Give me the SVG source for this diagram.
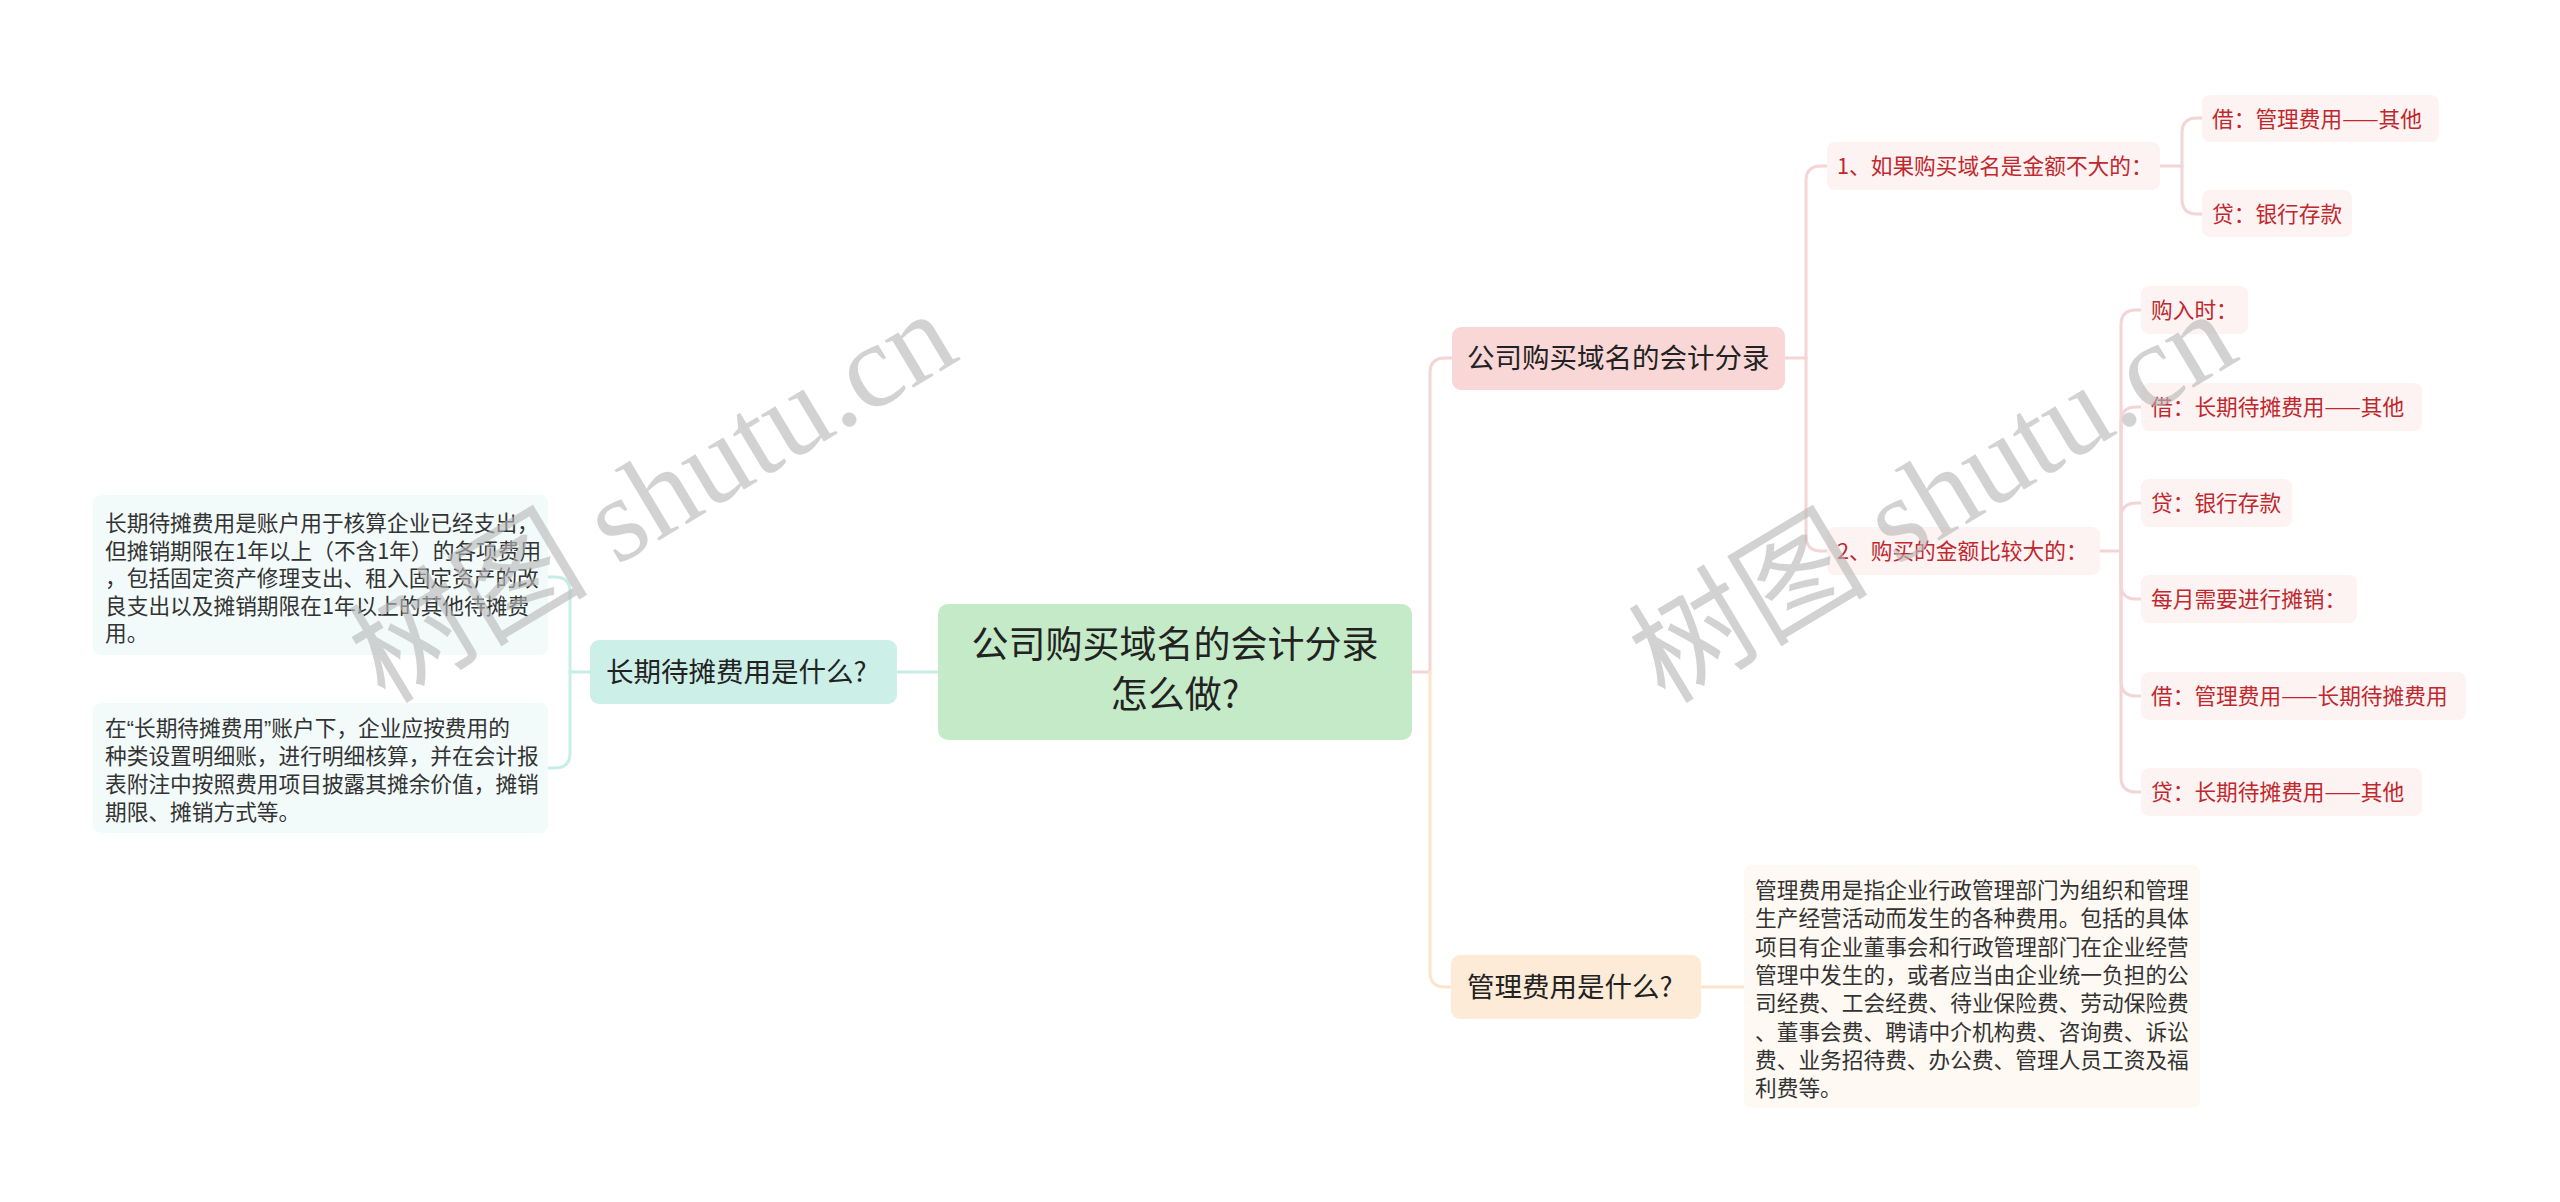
<svg xmlns="http://www.w3.org/2000/svg" width="2560" height="1202" viewBox="0 0 2560 1202">
<style>
text{font-family:"Noto Sans CJK SC","Noto Sans",sans-serif;}
.root{fill:#c5eac8;}
.rt{font-size:37px;fill:#222;}
.l1t{font-size:27.5px;fill:#222;}
.lt{font-size:21.7px;fill:#c0282d;}
.dt{font-size:21.7px;fill:#333;}
.q{font-family:"Liberation Sans",sans-serif;}
.leaf{fill:#fdf3f3;}
.c{fill:none;stroke-width:3;stroke-linecap:round;}
.teal{stroke:#c6ede6;}
.pink{stroke:#f4d4d4;}
.peach{stroke:#fde5cc;}
.wm{font-family:"Liberation Serif","Noto Sans CJK SC",serif;font-size:120px;fill:#b8b8b8;opacity:0.62;}
</style>
<rect width="2560" height="1202" fill="#ffffff"/>
<g id="connectors">
<path class="c teal" d="M938,672 H897"/>
<path class="c teal" d="M590,672 H570"/>
<path class="c teal" d="M570,672 V592 Q570,577 555,577 H548"/>
<path class="c teal" d="M570,672 V753 Q570,768 555,768 H548"/>
<path class="c pink" d="M1412,672 H1430 V373 Q1430,358 1445,358 H1452"/>
<path class="c peach" d="M1430,672 V972 Q1430,987 1445,987 H1451"/>
<path class="c peach" d="M1701,987 H1744"/>
<path class="c pink" d="M1785,358 H1806"/>
<path class="c pink" d="M1806,358 V181 Q1806,166 1821,166 H1827"/>
<path class="c pink" d="M1806,358 V536 Q1806,551 1821,551 H1827"/>
<path class="c pink" d="M2160,166 H2182"/>
<path class="c pink" d="M2182,166 V133 Q2182,118 2197,118 H2202"/>
<path class="c pink" d="M2182,166 V199 Q2182,214 2197,214 H2202"/>
<path class="c pink" d="M2100,551 H2121"/>
<path class="c pink" d="M2121,551 V325 Q2121,310 2136,310 H2141"/>
<path class="c pink" d="M2121,551 V422 Q2121,407 2136,407 H2141"/>
<path class="c pink" d="M2121,551 V518 Q2121,503 2136,503 H2141"/>
<path class="c pink" d="M2121,551 V584 Q2121,599 2136,599 H2141"/>
<path class="c pink" d="M2121,551 V681 Q2121,696 2136,696 H2141"/>
<path class="c pink" d="M2121,551 V777 Q2121,792 2136,792 H2141"/>
</g>
<g id="root">
<rect class="root" x="938" y="604" width="474" height="136" rx="10"/>
<text class="rt" text-anchor="middle"><tspan x="1175" y="658">公司购买域名的会计分录</tspan><tspan x="1175" y="708">怎么做?</tspan></text>
</g>
<g id="n-left">
<rect x="590" y="640" width="307" height="64" rx="9" fill="#ccefe8"/>
<text class="l1t" x="606" y="682">长期待摊费用是什么?</text>
</g>
<g id="n-left-d1">
<rect x="93" y="495" width="455" height="160" rx="8" fill="#f2fafa"/>
<text class="dt"><tspan x="105" y="531">长期待摊费用是账户用于核算企业已经支出，</tspan><tspan x="105" y="558.5">但摊销期限在1年以上（不含1年）的各项费用</tspan><tspan x="105" y="586">，包括固定资产修理支出、租入固定资产的改</tspan><tspan x="105" y="613.5">良支出以及摊销期限在1年以上的其他待摊费</tspan><tspan x="105" y="641">用。</tspan></text>
</g>
<g id="n-left-d2">
<rect x="93" y="703" width="455" height="130" rx="8" fill="#f2fafa"/>
<text class="dt"><tspan x="105" y="736">在<tspan class="q">“</tspan>长期待摊费用<tspan class="q">”</tspan>账户下，企业应按费用的</tspan><tspan x="105" y="764">种类设置明细账，进行明细核算，并在会计报</tspan><tspan x="105" y="792">表附注中按照费用项目披露其摊余价值，摊销</tspan><tspan x="105" y="820">期限、摊销方式等。</tspan></text>
</g>
<g id="n-entry">
<rect x="1452" y="327" width="333" height="63" rx="9" fill="#f9d7d7"/>
<text class="l1t" x="1467" y="368">公司购买域名的会计分录</text>
</g>
<g id="n-small">
<rect class="leaf" x="1827" y="142" width="333" height="48" rx="8"/>
<text class="lt" x="1837" y="174">1、如果购买域名是金额不大的：</text>
</g>
<g id="n-small-1">
<rect class="leaf" x="2202" y="95" width="237" height="47" rx="8"/>
<text class="lt" x="2212" y="126.5">借：管理费用——其他</text>
</g>
<g id="n-small-2">
<rect class="leaf" x="2202" y="190" width="150" height="47" rx="8"/>
<text class="lt" x="2212" y="221.5">贷：银行存款</text>
</g>
<g id="n-large">
<rect class="leaf" x="1827" y="527" width="273" height="48" rx="8"/>
<text class="lt" x="1837" y="559">2、购买的金额比较大的：</text>
</g>
<g id="n-large-1">
<rect class="leaf" x="2141" y="286" width="107" height="48" rx="8"/>
<text class="lt" x="2151" y="318">购入时：</text>
</g>
<g id="n-large-2">
<rect class="leaf" x="2141" y="383" width="281" height="48" rx="8"/>
<text class="lt" x="2151" y="415">借：长期待摊费用——其他</text>
</g>
<g id="n-large-3">
<rect class="leaf" x="2141" y="479" width="151" height="48" rx="8"/>
<text class="lt" x="2151" y="511">贷：银行存款</text>
</g>
<g id="n-large-4">
<rect class="leaf" x="2141" y="575" width="216" height="48" rx="8"/>
<text class="lt" x="2151" y="607">每月需要进行摊销：</text>
</g>
<g id="n-large-5">
<rect class="leaf" x="2141" y="672" width="325" height="48" rx="8"/>
<text class="lt" x="2151" y="704">借：管理费用——长期待摊费用</text>
</g>
<g id="n-large-6">
<rect class="leaf" x="2141" y="768" width="281" height="48" rx="8"/>
<text class="lt" x="2151" y="800">贷：长期待摊费用——其他</text>
</g>
<g id="n-mgmt">
<rect x="1451" y="955" width="250" height="64" rx="9" fill="#fdebd7"/>
<text class="l1t" x="1467" y="997">管理费用是什么?</text>
</g>
<g id="n-mgmt-d">
<rect x="1744" y="865" width="456" height="243" rx="8" fill="#fef9f2"/>
<text class="dt"><tspan x="1755" y="898">管理费用是指企业行政管理部门为组织和管理</tspan><tspan x="1755" y="926">生产经营活动而发生的各种费用。包括的具体</tspan><tspan x="1755" y="955">项目有企业董事会和行政管理部门在企业经营</tspan><tspan x="1755" y="983">管理中发生的，或者应当由企业统一负担的公</tspan><tspan x="1755" y="1011">司经费、工会经费、待业保险费、劳动保险费</tspan><tspan x="1755" y="1040">、董事会费、聘请中介机构费、咨询费、诉讼</tspan><tspan x="1755" y="1068">费、业务招待费、办公费、管理人员工资及福</tspan><tspan x="1755" y="1096">利费等。</tspan></text>
</g>
<g id="watermarks">
<text class="wm" transform="translate(385,705) rotate(-31)">树图 shutu.cn</text>
<text class="wm" transform="translate(1665,705) rotate(-31)">树图 shutu.cn</text>
</g>
</svg>
